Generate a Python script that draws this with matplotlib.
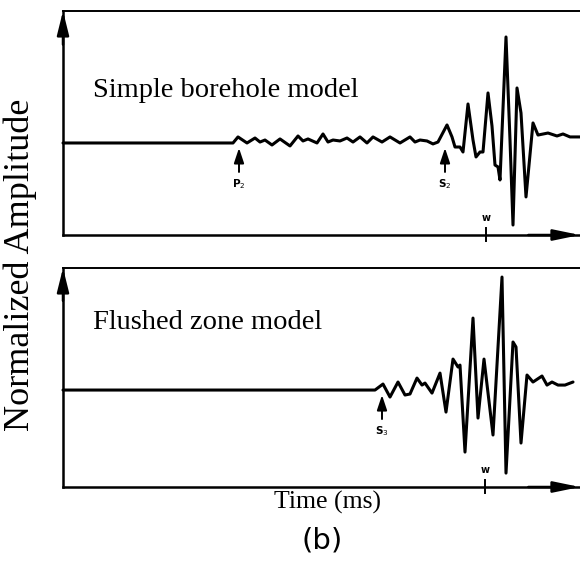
import matplotlib
matplotlib.use("Agg")
import matplotlib.pyplot as plt

# ---------------- data ----------------
# time axis in arbitrary ms units, amplitude normalized to the largest peak
simple_t = [0, 1.70, 1.75, 1.84, 1.92, 1.97, 2.02, 2.09, 2.17, 2.27,
            2.35, 2.40, 2.45, 2.54, 2.60, 2.65, 2.70, 2.77, 2.84, 2.90,
            2.97, 3.04, 3.10, 3.19, 3.27, 3.37, 3.47, 3.52, 3.57, 3.64,
            3.70, 3.75, 3.84, 3.89, 3.92, 3.97, 4.00, 4.05, 4.10, 4.13,
            4.17, 4.20, 4.25, 4.29, 4.32, 4.35, 4.37, 4.43, 4.47, 4.50,
            4.54, 4.58, 4.63, 4.70, 4.75, 4.85, 4.94, 5.00, 5.07, 5.17]
simple_amp = [0, 0, 0.057, 0, 0.047, 0.009, 0.028, -0.019, 0.038, -0.028,
              0.066, 0.019, 0.038, 0, 0.085, 0.009, 0.028, 0.019, 0.047, 0.009,
              0.057, 0, 0.057, 0.009, 0.057, 0, 0.057, 0.009, 0.028, 0.019,
              -0.009, 0.009, 0.170, 0.057, -0.038, -0.038, -0.085, 0.368, 0.028, -0.132,
              -0.085, -0.085, 0.472, 0.160, -0.208, -0.226, -0.349, 1.0, 0.028, -0.774,
              0.519, 0.283, -0.509, 0.189, 0.075, 0.094, 0.066, 0.085, 0.057, 0.057]

flushed_t = [0, 3.12, 3.20, 3.27, 3.35, 3.42, 3.47, 3.54, 3.59, 3.62,
             3.69, 3.77, 3.83, 3.90, 3.95, 3.97, 4.02, 4.10, 4.15, 4.21,
             4.30, 4.39, 4.43, 4.50, 4.53, 4.58, 4.64, 4.70, 4.79, 4.84,
             4.89, 4.95, 5.02, 5.10]
flushed_amp = [0, 0, 0.053, -0.062, 0.071, -0.044, -0.035, 0.106, 0.044, 0.062,
               -0.027, 0.150, -0.195, 0.274, 0.204, 0.221, -0.549, 0.637, -0.248, 0.274,
               -0.398, 1.0, -0.735, 0.425, 0.381, -0.469, 0.133, 0.071, 0.124, 0.044,
               0.071, 0.044, 0.044, 0.071]

# arrival markers: (label, time)
simple_arrivals = [("P$_2$", 1.76), ("S$_2$", 3.82)]
simple_w = 4.23
flushed_arrivals = [("S$_3$", 3.19)]
flushed_w = 4.22

panel_titles = ["Simple borehole model", "Flushed zone model"]
x_label = "Time (ms)"
y_label = "Normalized Amplitude"
fig_label = "(b)"

# ---------------- figure ----------------
W, H = 580, 585
fig = plt.figure(figsize=(W / 100, H / 100), dpi=100)

serif = ["Liberation Serif", "DejaVu Serif"]


def make_axes(left, top, right, bottom):
    return fig.add_axes([left / W, 1 - bottom / H, (right - left) / W, (bottom - top) / H])


ax1 = make_axes(63, 11, 580, 235)
ax2 = make_axes(63, 268, 580, 487)

panels = [
    (ax1, simple_t, simple_amp, (-0.868, 1.245), simple_arrivals, simple_w,
     panel_titles[0], 0.647, 106),
    (ax2, flushed_t, flushed_amp, (-0.858, 1.080), flushed_arrivals, flushed_w,
     panel_titles[1], 0.749, 113),
]

for ax, t, a, ylim, arrivals, wpos, title, ty, pxscale in panels:
    ax.plot(t, a, color="black", lw=2.2, solid_joinstyle="round",
            solid_capstyle="round", clip_on=False)
    ax.set_xlim(0, 5.17)
    ax.set_ylim(*ylim)
    ax.set_xticks([])
    ax.set_yticks([])
    ax.spines["right"].set_visible(False)
    for s in ("left", "bottom"):
        ax.spines[s].set_linewidth(1.8)
    ax.spines["top"].set_linewidth(1.4)
    ax.patch.set_alpha(0)

    # axis arrowheads
    ax.annotate("", xy=(0, 1), xytext=(0, 0.85), xycoords="axes fraction",
                arrowprops=dict(arrowstyle="-|>,head_length=1.45,head_width=0.36",
                                lw=1.8, color="black", shrinkA=0, shrinkB=0,
                                mutation_scale=10))
    ax.annotate("", xy=(1, 0), xytext=(0.9, 0), xycoords="axes fraction",
                arrowprops=dict(arrowstyle="-|>,head_length=1.6,head_width=0.33",
                                lw=1.8, color="black", shrinkA=0, shrinkB=0,
                                mutation_scale=10))

    # arrivals
    for lab, tt in arrivals:
        tip = -5 / pxscale
        tail = -29 / pxscale
        ax.annotate("", xy=(tt, tip), xytext=(tt, tail), xycoords="data",
                    arrowprops=dict(arrowstyle="-|>,head_length=0.9,head_width=0.3",
                                    lw=1.4, color="black", shrinkA=0, shrinkB=0,
                                    mutation_scale=10))
        ax.text(tt, tail - 12 / pxscale, lab, ha="center", va="center",
                fontsize=7.5, fontweight="bold", family="DejaVu Sans")

    # w tick
    y0 = ylim[0]
    ax.plot([wpos, wpos], [y0 - 6 / pxscale, y0 + 7 / pxscale], color="black",
            lw=1.4, clip_on=False)
    ax.text(wpos, y0 + 17 / pxscale, "w", ha="center", va="center",
            fontsize=7, fontweight="bold", family="DejaVu Sans")

    ax.text(30 / 517, ty, title, transform=ax.transAxes, ha="left", va="center",
            fontsize=20.5, family=serif)

fig.text(20 / W, 1 - 265 / H, y_label, rotation=90, ha="center", va="center",
         fontsize=26, family=serif)
fig.text(327 / W, 1 - 502 / H, x_label, ha="center", va="center",
         fontsize=18.5, family=serif)
fig.text(322 / W, 1 - 541 / H, fig_label, ha="center", va="center",
         fontsize=21, family=["DejaVu Sans"])

fig.savefig("out.png", dpi=100)
